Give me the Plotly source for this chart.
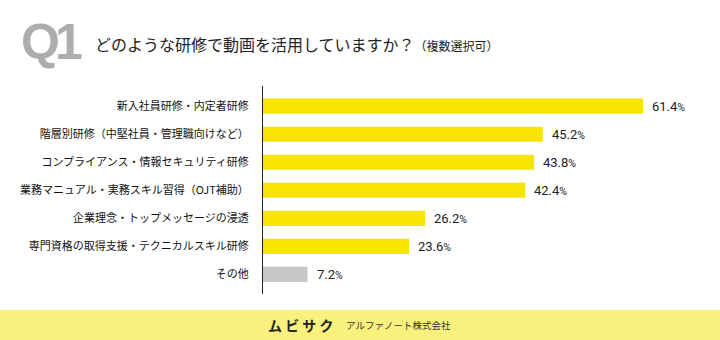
import plotly.graph_objects as go

categories = [
    "新入社員研修・内定者研修",
    "階層別研修（中堅社員・管理職向けなど）",
    "コンプライアンス・情報セキュリティ研修",
    "業務マニュアル・実務スキル習得（OJT補助）",
    "企業理念・トップメッセージの浸透",
    "専門資格の取得支援・テクニカルスキル研修",
    "その他",
]
values = [61.4, 45.2, 43.8, 42.4, 26.2, 23.6, 7.2]
bar_colors = ["#f7e400"] * 6 + ["#c8c8c8"]

title_text = "どのような研修で動画を活用していますか？"
title_sub = "（複数選択可）"
footer_brand = "ムビサク"
footer_company = "アルファノート株式会社"

L, R, T, B = 263, 11, 86, 46
W, H = 720, 340
pw = W - L - R
ph = H - T - B


def px(xp):
    return (xp - L) / pw


def py(yp):
    return (H - B - yp) / ph


fig = go.Figure()
fig.add_trace(go.Bar(
    x=values, y=categories, orientation="h",
    marker=dict(color=bar_colors, line=dict(width=0)),
    width=0.54, hoverinfo="skip",
))

for c, v in zip(categories, values):
    fig.add_annotation(
        x=v, y=c, xref="x", yref="y",
        text=f"{v:.1f}<span style='font-size:10.5px'>%</span>",
        showarrow=False, xanchor="left", xshift=7, yshift=0,
        font=dict(family="Roboto, DejaVu Sans", size=13, color="#222"),
    )

# footer band
fig.add_shape(type="rect", xref="paper", yref="paper",
              x0=px(0), x1=px(W), y0=py(H), y1=py(310),
              fillcolor="#faf07e", line=dict(width=0), layer="below")

fig.add_annotation(xref="paper", yref="paper", x=px(19), y=py(42),
                   text="<span style='letter-spacing:-5px'><b>Q1</b></span>",
                   showarrow=False, xanchor="left", yanchor="middle",
                   font=dict(family="Liberation Sans", size=50, color="#adadad"))
fig.add_annotation(xref="paper", yref="paper", x=px(93), y=py(44),
                   text=title_text + f"<span style='font-size:12px'>{title_sub}</span>",
                   showarrow=False, xanchor="left", yanchor="middle",
                   font=dict(family="Noto Sans CJK JP", size=16, color="#222"))
fig.add_annotation(xref="paper", yref="paper", x=px(266), y=py(325),
                   text="<b>" + " ".join(footer_brand) + "</b>", showarrow=False,
                   xanchor="left", yanchor="middle",
                   font=dict(family="Noto Sans CJK JP", size=14, color="#222"))
fig.add_annotation(xref="paper", yref="paper", x=px(344), y=py(325),
                   text=footer_company, showarrow=False, xanchor="left", yanchor="middle",
                   font=dict(family="Noto Sans CJK JP", size=9.5, color="#333"))

fig.update_layout(
    width=W, height=H,
    margin=dict(l=L, r=R, t=T, b=B, pad=0),
    paper_bgcolor="white", plot_bgcolor="white",
    showlegend=False,
    xaxis=dict(range=[0, pw / 6.19], visible=False, fixedrange=True),
    yaxis=dict(
        type="category", categoryorder="array", categoryarray=categories,
        range=[6.7, -0.72], showline=True, linecolor="#222", linewidth=1,
        ticks="", showgrid=False, zeroline=False, ticklabelstandoff=11,
        tickfont=dict(family="Noto Sans CJK JP", size=11, color="#111"),
    ),
)

fig.write_html("out.html")
